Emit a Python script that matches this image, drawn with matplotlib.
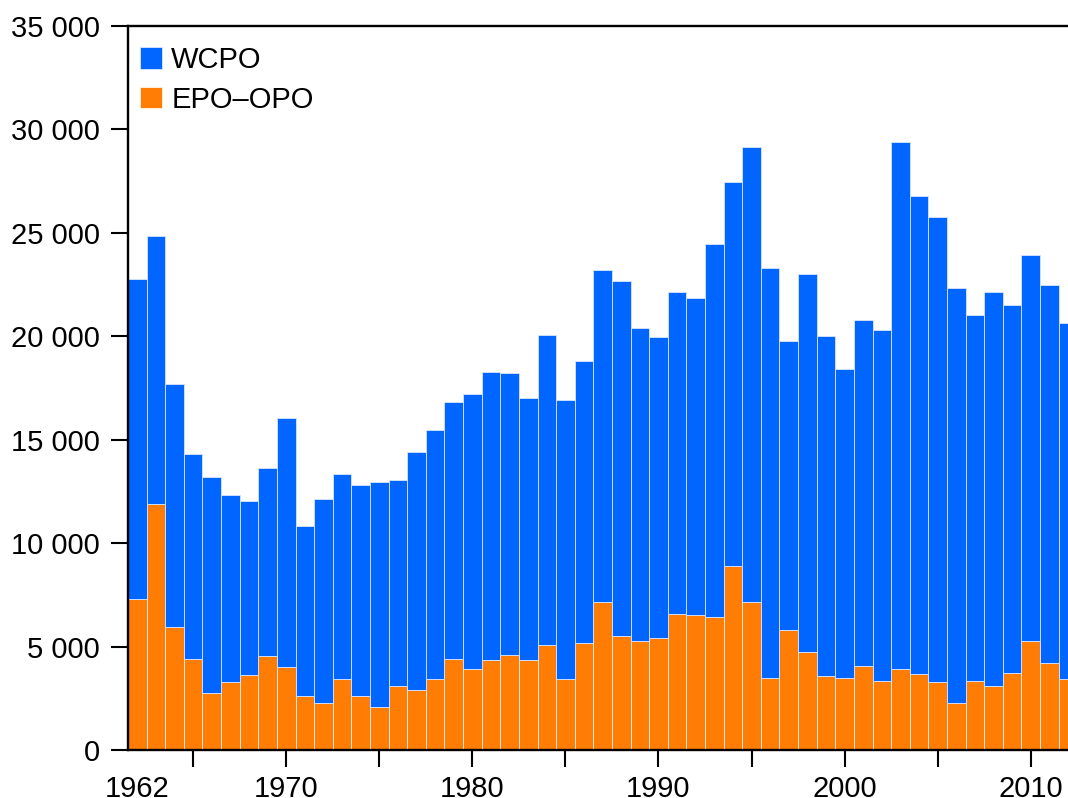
import matplotlib.pyplot as plt
from matplotlib.ticker import FuncFormatter
import numpy as np

plt.rcParams['font.family'] = ['Liberation Sans', 'DejaVu Sans']

# captures par année (tonnes)
years = list(range(1962, 2013))
epo_opo = [7300, 11890, 5960, 4410, 2740, 3300, 3630, 4540, 4000, 2630,
           2290, 3430, 2630, 2080, 3090, 2900, 3450, 4410, 3900, 4340,
           4610, 4340, 5060, 3450, 5170, 7170, 5530, 5270, 5400, 6590,
           6510, 6430, 8890, 7170, 3480, 5790, 4740, 3580, 3500, 4060,
           3350, 3920, 3670, 3300, 2260, 3340, 3110, 3740, 5290, 4220,
           3450]
wcpo = [15470, 12960, 11720, 9880, 10440, 9030, 8420, 9110, 12060, 8200,
        9860, 9900, 10180, 10870, 9960, 11520, 12000, 12430, 13330, 13920,
        13630, 12660, 15020, 13450, 13630, 16050, 17160, 15110, 14580, 15550,
        15360, 18030, 18550, 21990, 19840, 14000, 18260, 16420, 14930, 16710,
        16950, 25460, 23100, 22470, 20060, 17670, 19030, 17750, 18650, 18240,
        17190]

blue = '#0066ff'
orange = '#ff7d05'
fs = 21

fig = plt.figure(figsize=(10.68, 7.98), dpi=100)
ax = fig.add_axes([128/1068, 48/798, 1 - 128/1068, 724/798])

ax.bar(years, epo_opo, width=1.0, color=orange, edgecolor='#fff3e8',
       linewidth=0.6, label='EPO–OPO')
ax.bar(years, wcpo, width=1.0, bottom=epo_opo, color=blue, edgecolor='#d9e6ff',
       linewidth=0.6, label='WCPO')

ax.set_xlim(1961.5, 2012.0)
ax.set_ylim(0, 35000)

ax.set_yticks(np.arange(0, 35001, 5000))
ax.yaxis.set_major_formatter(FuncFormatter(lambda v, p: f'{int(v):,}'.replace(',', ' ')))

# graduations tous les 5 ans, étiquettes aux décennies + 1962
ax.set_xticks(list(range(1965, 2011, 5)))
ax.set_xticklabels([str(y) if y % 10 == 0 else '' for y in range(1965, 2011, 5)])
ax.set_xticks([1962], minor=True)
ax.set_xticklabels(['1962'], minor=True)

ax.tick_params(axis='both', which='major', labelsize=fs, width=1.5, length=12,
               direction='out', color='black')
ax.tick_params(axis='x', which='major', pad=6)
ax.tick_params(axis='y', which='major', pad=8.5)
ax.tick_params(axis='x', which='minor', length=0, pad=18.2, labelsize=fs)

for side in ['left', 'bottom', 'top']:
    ax.spines[side].set_linewidth(1.7)
    ax.spines[side].set_color('black')
ax.spines['right'].set_visible(False)

h, l = ax.get_legend_handles_labels()
ax.legend(h[::-1], l[::-1], loc='upper left', bbox_to_anchor=(12/940, 1 - 20/724),
          frameon=False, fontsize=fs, borderpad=0, borderaxespad=0,
          handlelength=0.75, handleheight=0.75, handletextpad=0.32,
          labelspacing=0.4)

plt.savefig('out.png', dpi=100)
